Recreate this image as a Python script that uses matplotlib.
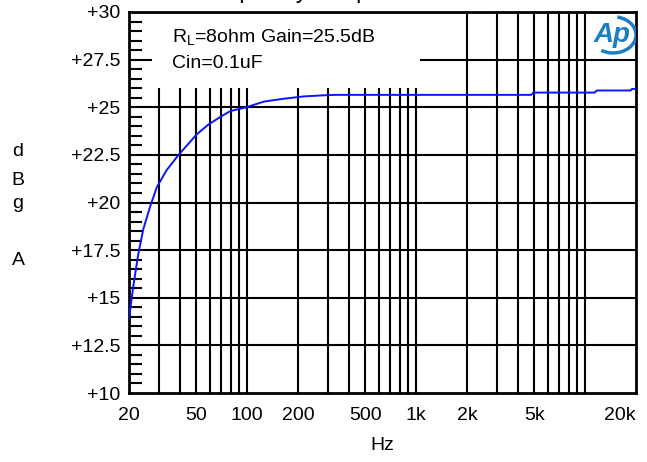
import matplotlib.pyplot as plt
import matplotlib.patches as patches
from matplotlib.ticker import FixedLocator, NullFormatter
import numpy as np

plt.rcParams['font.family'] = ['Liberation Sans', 'DejaVu Sans']

# 频率响应数据
freq = [20, 21.2, 22.7, 24.3, 26.7, 29.2, 33.4, 39.3, 50.6, 59.2, 69.6, 79.6, 98.9,
        126, 166, 217, 274, 330, 4800, 4950, 11400, 11700, 18600, 18900, 20000]
gain = [13.9, 15.6, 17.3, 18.6, 19.8, 20.8, 21.7, 22.5, 23.6, 24.1, 24.5, 24.8, 25.0,
        25.3, 25.45, 25.57, 25.62, 25.65, 25.65, 25.77, 25.77, 25.88, 25.88, 25.96, 25.96]

x_ticks = [20, 50, 100, 200, 500, 1000, 2000, 5000, 20000]
x_labels = ['20', '50', '100', '200', '500', '1k', '2k', '5k', '20k']
x_grid = [30, 40, 50, 60, 70, 80, 90, 100, 200, 300, 400, 500, 600, 700, 800, 900,
          1000, 2000, 3000, 4000, 5000, 6000, 7000, 8000, 9000, 10000]
y_ticks = [10, 12.5, 15, 17.5, 20, 22.5, 25, 27.5, 30]
y_labels = ['+10', '+12.5', '+15', '+17.5', '+20', '+22.5', '+25', '+27.5', '+30']

fig = plt.figure(figsize=(6.47, 4.62), dpi=100)
ax = fig.add_axes([129 / 647, 69 / 462, 507 / 647, 381 / 462])
ax.set_xscale('log')
ax.set_xlim(20, 20000)
ax.set_ylim(10, 30)

# 网格线
for xv in x_grid:
    ax.axvline(xv, color='black', lw=1.5, zorder=1)
for yv in y_ticks[1:-1]:
    ax.axhline(yv, color='black', lw=1.5, zorder=1)

# 文字框和Logo的白底
ax.add_patch(patches.Rectangle((0.045, 0.80), 0.529, 0.21, transform=ax.transAxes,
                               facecolor='white', edgecolor='none', zorder=2))
ax.add_patch(patches.Rectangle((0.905, 0.882), 0.095, 0.12, transform=ax.transAxes,
                               facecolor='white', edgecolor='none', zorder=2))

ax.plot(freq, gain, color='#0a14ff', lw=1.4, zorder=3)

ax.xaxis.set_major_locator(FixedLocator(x_ticks))
ax.set_xticklabels(x_labels)
ax.xaxis.set_minor_formatter(NullFormatter())
ax.xaxis.set_minor_locator(FixedLocator([]))
ax.tick_params(axis='x', which='major', length=0, pad=10, labelsize=14)
for lab in ax.get_xticklabels():
    if lab.get_text() == '20k':
        lab.set_horizontalalignment('right')

ax.set_yticks(y_ticks)
ax.set_yticklabels(y_labels)
ax.yaxis.set_minor_locator(FixedLocator(np.arange(10, 30.01, 0.5)))
ax.tick_params(axis='y', which='major', length=0, pad=6, labelsize=14)
ax.tick_params(axis='y', which='minor', direction='in', length=9, width=1.5, left=True)

for s in ax.spines.values():
    s.set_linewidth(2)

ax.text(0.085, 0.932, 'R$_\\mathregular{L}$=8ohm Gain=25.5dB', transform=ax.transAxes,
        fontsize=14, va='center', ha='left', zorder=4)
ax.text(0.085, 0.866, 'Cin=0.1uF', transform=ax.transAxes,
        fontsize=14, va='center', ha='left', zorder=4)

# Ap logo
ax.text(0.952, 0.94, 'Ap', transform=ax.transAxes, fontsize=20, style='italic',
        fontweight='bold', color='#1b7fc4', ha='center', va='center', zorder=4)
ax.add_patch(patches.Arc((0.955, 0.94), 0.09, 0.095, transform=ax.transAxes,
                         theta1=-120, theta2=80, color='#1b7fc4', lw=2.5, zorder=4))

# 轴标签
for ch, yb in zip(['d', 'B', 'g', 'A'], [156, 185, 208, 265]):
    fig.text(18 / 647, 1 - yb / 462, ch, fontsize=14, ha='center', va='baseline')
fig.text(382 / 647, 1 - 450 / 462, 'Hz', fontsize=14, ha='center', va='baseline')
fig.text(196 / 647, 1.004, 'Frequency Response', fontsize=17, ha='left', va='baseline')

fig.savefig('out.png', dpi=100)
